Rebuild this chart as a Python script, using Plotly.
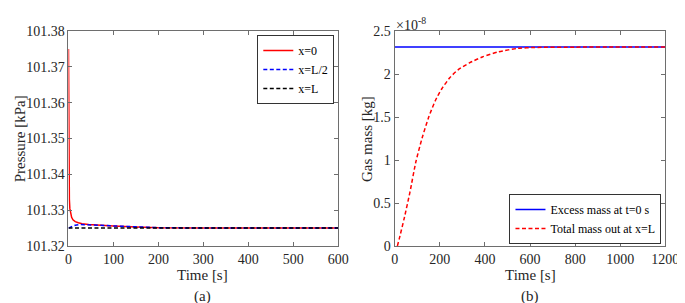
import plotly.graph_objects as go

# (a) pressure at three positions [kPa]
t_x0 = [0, 0.5, 1, 1.5, 2, 3, 5, 7, 10, 15, 22, 30, 45, 65, 100, 150, 200, 300, 400, 600]
p_x0 = [101.375, 101.355, 101.342, 101.336, 101.333, 101.3305, 101.3288, 101.3280, 101.3273,
        101.3268, 101.3265, 101.3262, 101.3260, 101.3258, 101.3256, 101.3253, 101.3251,
        101.32505, 101.3250, 101.3250]
t_half = [0, 3, 8, 15, 25, 40, 65, 100, 150, 200, 300, 600]
p_half = [101.3250, 101.3252, 101.3255, 101.3258, 101.3260, 101.3260, 101.3258, 101.3256,
          101.3253, 101.3251, 101.3250, 101.3250]
t_L = [0, 600]
p_L = [101.325, 101.325]

# (b) gas mass [1e-8 kg]
t_excess = [0, 1200]
m_excess = [2.315, 2.315]
t_out = [12, 20, 43, 68, 94, 122, 151, 180, 209, 245, 281, 331, 389, 461, 547, 619, 800, 1000, 1200]
m_out = [0, 0.08, 0.33, 0.63, 0.98, 1.26, 1.50, 1.69, 1.83, 1.96, 2.05, 2.13, 2.20, 2.26,
         2.30, 2.31, 2.314, 2.315, 2.315]

FONT = "Liberation Serif, Times New Roman, serif"
AXIS_COL = "#6e6e6e"
DASH = "4px,2.5px"

fig = go.Figure()
fig.add_trace(go.Scatter(x=t_x0, y=p_x0, mode="lines", name="x=0",
                         line=dict(color="#ff0000", width=1.5), legend="legend"))
fig.add_trace(go.Scatter(x=t_half, y=p_half, mode="lines", name="x=L/2",
                         line=dict(color="#0000ff", width=1.5, dash=DASH), legend="legend"))
fig.add_trace(go.Scatter(x=t_L, y=p_L, mode="lines", name="x=L",
                         line=dict(color="#000000", width=1.5, dash=DASH), legend="legend"))
fig.add_trace(go.Scatter(x=t_excess, y=m_excess, mode="lines", name="Excess mass at t=0 s",
                         line=dict(color="#0000ff", width=1.5), xaxis="x2", yaxis="y2",
                         legend="legend2"))
fig.add_trace(go.Scatter(x=t_out, y=m_out, mode="lines", name="Total mass out at x=L",
                         line=dict(color="#ff0000", width=1.5, dash=DASH, shape="spline",
                                   smoothing=0.6),
                         xaxis="x2", yaxis="y2", legend="legend2"))

axis_style = dict(showline=True, linecolor=AXIS_COL, linewidth=1, mirror="ticks",
                  ticks="inside", ticklen=4, tickcolor=AXIS_COL, showgrid=False, zeroline=False,
                  tickfont=dict(family=FONT, size=14, color="#262626"))

ydom = [1 - 243 / 303, 1 - 17 / 303]
legend_style = dict(bgcolor="white", bordercolor="#333333", borderwidth=1,
                    font=dict(family=FONT, size=12, color="#000000"), itemwidth=30,
                    tracegroupgap=0)
fig.update_layout(
    width=685, height=303,
    margin=dict(l=0, r=0, t=0, b=0),
    paper_bgcolor="white", plot_bgcolor="white",
    font=dict(family=FONT, color="#262626"),
    xaxis=dict(domain=[58 / 685, 335 / 685], range=[0, 600], dtick=100, anchor="y", **axis_style),
    yaxis=dict(domain=ydom, range=[101.32, 101.38], dtick=0.01, anchor="x", **axis_style),
    xaxis2=dict(domain=[393 / 685, 671 / 685], range=[0, 1200], dtick=200, anchor="y2", **axis_style),
    yaxis2=dict(domain=ydom, range=[0, 2.5], dtick=0.5, anchor="x2", **axis_style),
    legend=dict(x=331 / 685, y=1 - 21 / 303, xanchor="right", yanchor="top", **legend_style),
    legend2=dict(x=667 / 685, y=1 - 241 / 303, xanchor="right", yanchor="bottom", **legend_style),
    showlegend=True,
)

annos = [
    ("Pressure [kPa]", 8, 130, -90, 15, "center"),
    ("Gas mass [kg]", 364, 130, -90, 15, "center"),
    ("Time [s]", 196, 274, 0, 15, "center"),
    ("Time [s]", 533, 274, 0, 15, "center"),
    ("(a)", 196, 296, 0, 15, "center"),
    ("(b)", 532, 296, 0, 15, "center"),
    ("×10<sup>-8</sup>", 392, 9, 0, 14, "left"),
]
for text, px, py, ang, size, xa in annos:
    fig.add_annotation(text=text, xref="paper", yref="paper", x=px / 685, y=1 - py / 303,
                       xanchor=xa, yanchor="middle", textangle=ang, showarrow=False,
                       font=dict(family=FONT, size=size, color="#262626"))

fig.write_html("out.html")
